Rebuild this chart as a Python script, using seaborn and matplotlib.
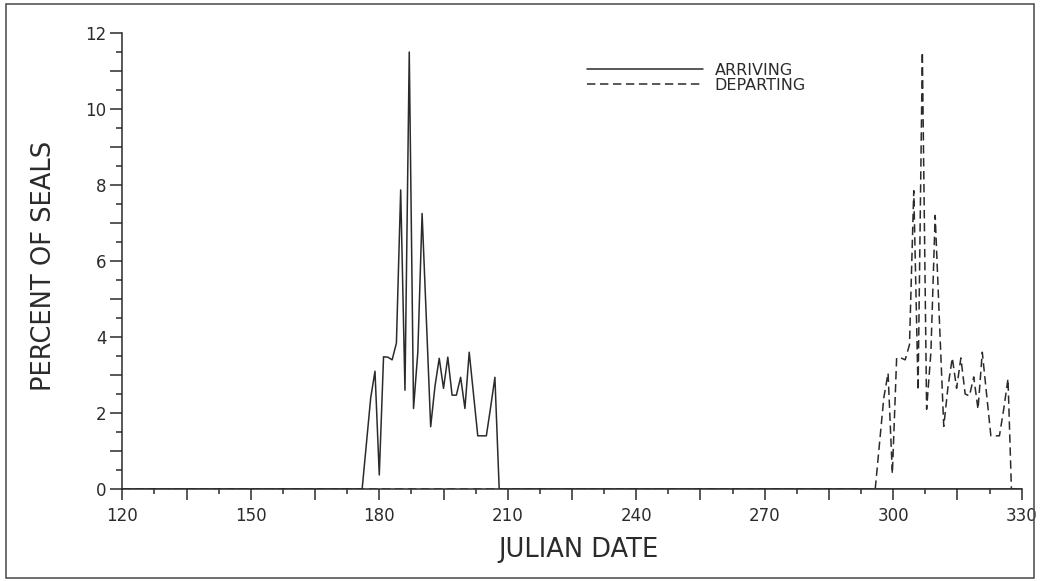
import numpy as np
import pandas as pd
import matplotlib
matplotlib.use("Agg")
import matplotlib.pyplot as plt
from matplotlib.ticker import MultipleLocator, FuncFormatter
from matplotlib.patches import Rectangle
import seaborn as sns

# ---- data ----
arriving_day = [120, 176, 177, 178, 179, 180, 181, 182, 183, 184, 185, 186, 187, 188,
                189, 190, 191, 192, 193, 194, 195, 196, 197, 198, 199, 200, 201, 202,
                203, 204, 205, 206, 207, 208, 330]
arriving_pct = [0.0, 0.0, 1.2, 2.4, 3.1, 0.37, 3.48, 3.47, 3.4, 3.84, 7.87, 2.6, 11.5, 2.12,
                3.6, 7.25, 4.45, 1.64, 2.7, 3.44, 2.65, 3.47, 2.47, 2.47, 2.94, 2.12, 3.6, 2.5,
                1.4, 1.4, 1.4, 2.15, 2.94, 0.0, 0.0]

departing_day = [120, 295.8, 296.8, 297.8, 298.8, 299.8, 300.8, 301.8, 302.8, 303.8, 304.8,
                 305.8, 306.8, 307.8, 308.8, 309.8, 310.8, 311.8, 312.8, 313.8, 314.8, 315.8,
                 316.8, 317.8, 318.8, 319.8, 320.8, 321.8, 322.8, 323.8, 324.8, 325.8, 326.8,
                 327.6, 330]
departing_pct = [0.0, 0.0, 1.2, 2.4, 3.05, 0.4, 3.45, 3.45, 3.4, 3.8, 7.85, 2.6, 11.5, 2.1,
                 3.6, 7.2, 4.4, 1.65, 2.7, 3.45, 2.65, 3.45, 2.5, 2.45, 2.95, 2.1, 3.6, 2.5,
                 1.4, 1.4, 1.4, 2.1, 2.9, 0.0, 0.0]

series_labels = ["ARRIVING", "DEPARTING"]
x_tick_labels = [120, 150, 180, 210, 240, 270, 300, 330]
y_tick_labels = [0, 2, 4, 6, 8, 10, 12]

# ---- style ----
sns.set_theme(style="ticks")
plt.rcParams["font.family"] = ["DejaVu Sans"]
ink = "#2b2b2b"
plt.rcParams.update({
    "axes.edgecolor": ink,
    "axes.linewidth": 1.1,
    "xtick.color": ink,
    "ytick.color": ink,
    "text.color": ink,
    "axes.labelcolor": ink,
})

fig = plt.figure(figsize=(10.4, 5.81), dpi=100)
ax = fig.add_axes([0.1176, 0.1583, 0.8648, 0.7849])

sns.lineplot(x=arriving_day, y=arriving_pct, ax=ax, color=ink, lw=1.1,
             label=series_labels[0], errorbar=None)
sns.lineplot(x=departing_day, y=departing_pct, ax=ax, color=ink, lw=1.1,
             label=series_labels[1], errorbar=None)
ax.lines[1].set_dashes([5.5, 3.0])

ax.set_xlim(120, 330)
ax.set_ylim(0, 12)

# ticks
ax.xaxis.set_major_locator(MultipleLocator(15))
ax.xaxis.set_minor_locator(MultipleLocator(7.5))
ax.xaxis.set_major_formatter(FuncFormatter(
    lambda v, p: f"{int(round(v))}" if int(round(v)) in x_tick_labels else ""))
ax.yaxis.set_major_locator(MultipleLocator(1))
ax.yaxis.set_minor_locator(MultipleLocator(0.5))
ax.yaxis.set_major_formatter(FuncFormatter(
    lambda v, p: f"{int(round(v))}" if int(round(v)) in y_tick_labels and abs(v - round(v)) < 1e-6 else ""))
ax.tick_params(axis="x", which="major", length=8, width=1.1, pad=5, labelsize=12)
ax.tick_params(axis="x", which="minor", length=3.8, width=1.1)
ax.tick_params(axis="y", which="major", length=8.5, width=1.1, pad=3, labelsize=12)
ax.tick_params(axis="y", which="minor", length=4, width=1.1)

sns.despine(ax=ax, top=True, right=True)

ax.set_xlabel("JULIAN DATE", fontsize=18.5, va="center")
ax.set_ylabel("PERCENT OF SEALS", fontsize=18.5, va="center")
ax.xaxis.set_label_coords(0.507, -0.134)
ax.yaxis.set_label_coords(-0.087, 0.489)

leg = ax.legend(loc="upper left", bbox_to_anchor=(0.5167, 0.935), frameon=False,
                fontsize=11.5, handlelength=7.25, handletextpad=0.75, labelspacing=0.0,
                borderpad=0, borderaxespad=0)
for h in leg.get_lines():
    h.set_linewidth(1.1)
leg.get_lines()[1].set_dashes([5.5, 3.0])

# outer frame of the figure
fig.add_artist(Rectangle((6 / 1040, 1 - 578 / 581), 1028 / 1040, 574 / 581,
                         transform=fig.transFigure, fill=False, ec="#555555", lw=1.2))

fig.savefig("out.png", dpi=100, facecolor="white")
